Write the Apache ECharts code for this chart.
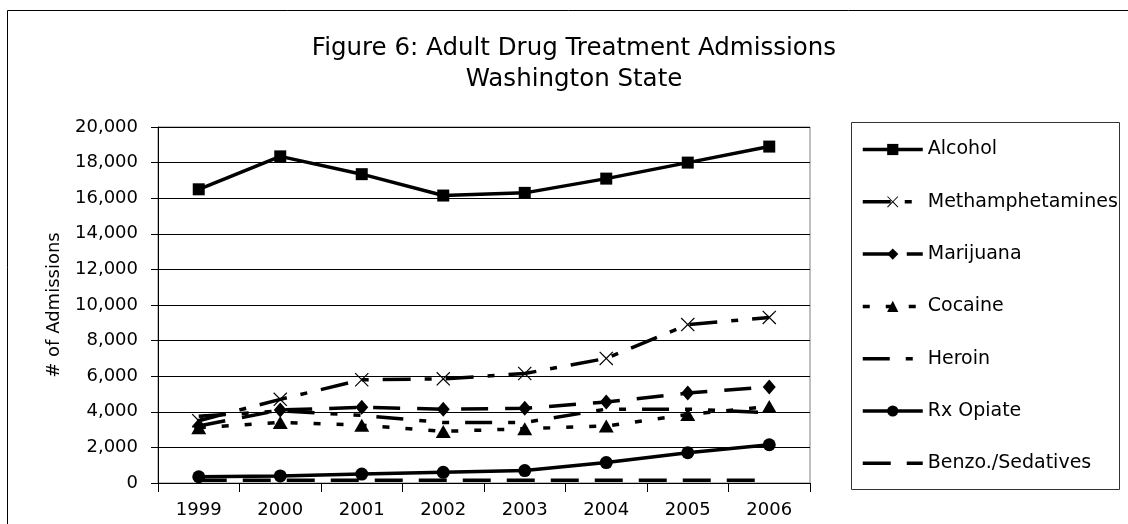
<!DOCTYPE html>
<html>
<head>
<meta charset="utf-8">
<title>Adult Drug Treatment Admissions</title>
<script src="https://cdn.jsdelivr.net/npm/echarts@6/dist/echarts.min.js"></script>
<style>
  html, body { margin: 0; padding: 0; background: #fff; }
  #chart { width: 1128px; height: 524px; }
</style>
</head>
<body>
<div id="chart"></div>
<script>
// Admissions by primary drug, Washington State, 1999-2006
const years = ['1999', '2000', '2001', '2002', '2003', '2004', '2005', '2006'];
const alcohol = [16500, 18350, 17350, 16150, 16300, 17100, 18000, 18900];
const methamphetamines = [3500, 4700, 5800, 5850, 6150, 7000, 8900, 9300];
const marijuana = [3200, 4100, 4250, 4150, 4200, 4550, 5050, 5400];
const cocaine = [3100, 3400, 3250, 2900, 3050, 3200, 3850, 4300];
const heroin = [3750, 4050, 3800, 3400, 3400, 4150, 4150, 3950];
const rxOpiate = [350, 400, 500, 600, 700, 1150, 1700, 2150];
const benzoSedatives = [150, 150, 150, 150, 150, 150, 150, 150];
const yTicks = { min: 0, max: 20000, step: 2000 };

const FONT = '"DejaVu Sans", Verdana, sans-serif';
const INK = '#000';

// thin diagonal cross marker
const crossMark = 'path://M0,6L6,0L50,44L94,0L100,6L56,50L100,94L94,100L50,56L6,100L0,94L44,50Z';

function lineSeries(name, data, dash, symbol, size) {
  return {
    name: name,
    type: 'line',
    data: data,
    symbol: symbol || 'none',
    symbolSize: size || 0,
    showSymbol: !!symbol,
    animation: false,
    lineStyle: { color: INK, width: 3.5, type: dash },
    itemStyle: { color: INK, borderWidth: 0 },
    emphasis: { disabled: true }
  };
}

// legend entries; lines without markers get an invisible legend symbol
const noMarker = { color: 'rgba(0,0,0,0)', opacity: 0, borderWidth: 0 };
const legendItems = [
  { name: 'Alcohol' },
  { name: 'Methamphetamines' },
  { name: 'Marijuana' },
  { name: 'Cocaine' },
  { name: 'Heroin', itemStyle: noMarker },
  { name: 'Rx Opiate' },
  { name: 'Benzo./Sedatives', itemStyle: noMarker }
];

const chart = echarts.init(document.getElementById('chart'), null, { renderer: 'canvas' });

chart.setOption({
  backgroundColor: '#fff',
  animation: false,
  textStyle: { fontFamily: FONT, color: INK },
  graphic: [
    // outer chart frame
    { type: 'rect', shape: { x: 7.5, y: 10.5, width: 1200, height: 600 },
      style: { fill: 'none', stroke: INK, lineWidth: 1 }, silent: true, z: -1 },
    // legend frame
    { type: 'rect', shape: { x: 851.5, y: 122.5, width: 268, height: 367 },
      style: { fill: 'none', stroke: '#333', lineWidth: 1 }, silent: true, z: -1 },
    { type: 'text', x: 574, y: 49,
      style: { text: 'Figure 6: Adult Drug Treatment Admissions', font: '24.5px ' + FONT,
               fill: INK, textAlign: 'center', textVerticalAlign: 'middle' } },
    { type: 'text', x: 574, y: 80,
      style: { text: 'Washington State', font: '24.5px ' + FONT,
               fill: INK, textAlign: 'center', textVerticalAlign: 'middle' } }
  ],
  grid: {
    left: 158, right: 318, top: 127, bottom: 41,
    show: true, borderColor: '#808080', borderWidth: 1, backgroundColor: 'transparent'
  },
  legend: {
    orient: 'vertical',
    left: 861,
    top: 140,
    padding: 0,
    itemWidth: 60,
    itemHeight: 14,
    itemGap: 33.3,
    selectedMode: false,
    lineStyle: { width: 3.5 },
    textStyle: { fontFamily: FONT, fontSize: 19, color: INK },
    data: legendItems
  },
  xAxis: {
    type: 'category',
    data: years,
    boundaryGap: true,
    axisLine: { lineStyle: { color: INK, width: 1 } },
    axisTick: { show: true, length: 9, lineStyle: { color: INK } },
    axisLabel: { fontFamily: FONT, fontSize: 18, color: INK, margin: 18 },
    splitLine: { show: false }
  },
  yAxis: {
    type: 'value',
    min: yTicks.min,
    max: yTicks.max,
    interval: yTicks.step,
    name: '# of Admissions',
    nameLocation: 'middle',
    nameGap: 95,
    nameTextStyle: { fontFamily: FONT, fontSize: 18, color: INK },
    axisLine: { show: true, lineStyle: { color: INK, width: 1 } },
    axisTick: { show: true, length: 7, lineStyle: { color: INK } },
    axisLabel: {
      fontFamily: FONT, fontSize: 18, color: INK, margin: 20,
      formatter: v => v.toLocaleString('en-US')
    },
    splitLine: { show: true, lineStyle: { color: INK, width: 1 } }
  },
  series: [
    lineSeries('Alcohol', alcohol, 'solid', 'rect', 12),
    lineSeries('Methamphetamines', methamphetamines, [28, 14, 7, 14], crossMark, 14),
    lineSeries('Marijuana', marijuana, [27, 17], 'diamond', [13, 15]),
    lineSeries('Cocaine', cocaine, [7, 16], 'triangle', [15, 13]),
    lineSeries('Heroin', heroin, [27, 16, 7, 16, 7, 16]),
    lineSeries('Rx Opiate', rxOpiate, 'solid', 'circle', 13),
    lineSeries('Benzo./Sedatives', benzoSedatives, [28, 16])
  ]
});
</script>
</body>
</html>
